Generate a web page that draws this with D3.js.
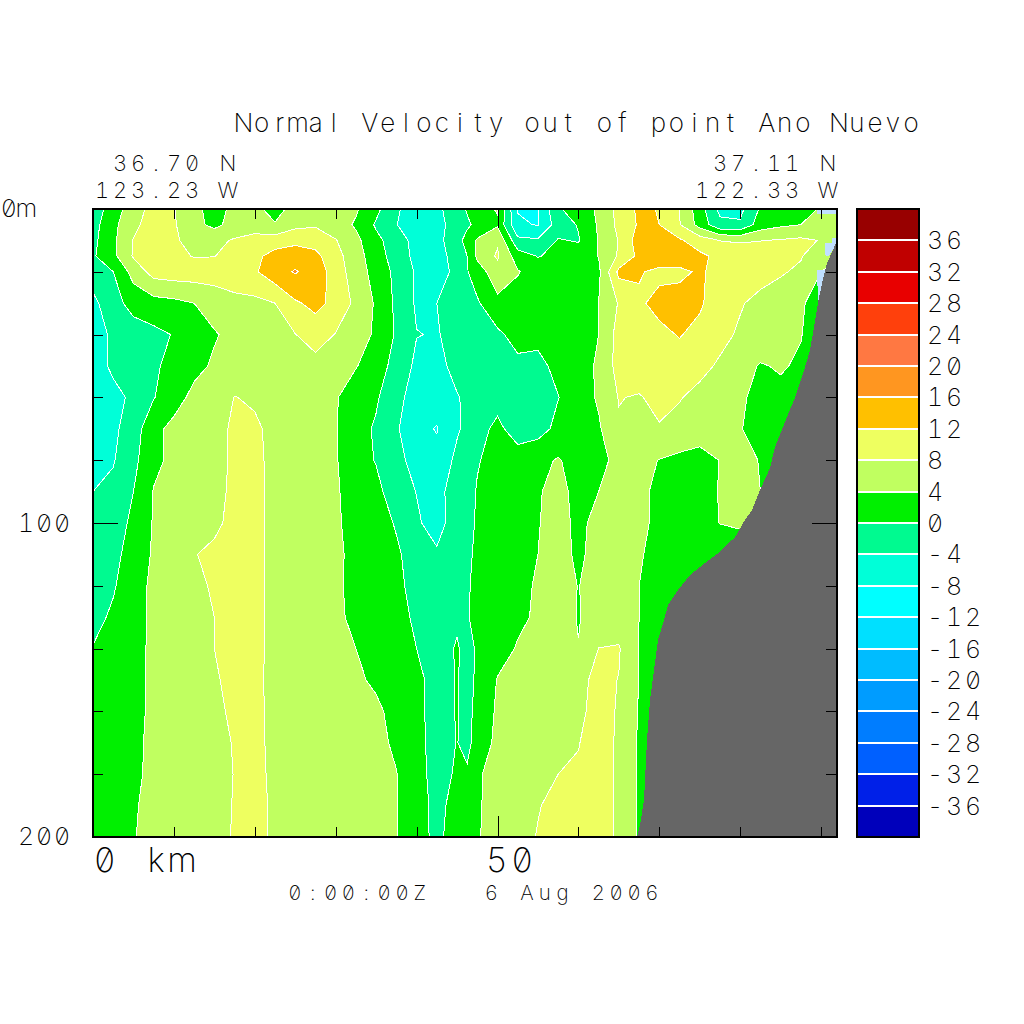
<!DOCTYPE html>
<html><head><meta charset="utf-8">
<script src="https://cdn.jsdelivr.net/npm/d3@7"></script>
<style>
html,body{margin:0;padding:0;background:#fff}
svg{display:block}
text{font-family:Inter,"Liberation Mono",monospace;font-weight:250;font-feature-settings:"zero","tnum";fill:#000;white-space:pre}
</style></head><body>
<svg id="c" width="1024" height="1024"></svg>
<script>
// ---- data (km along section, metres of depth, cm/s normal velocity) ----
const titleText = "Normal Velocity out of point Ano Nuevo";
const dateText = "0:00:00Z   6 Aug 2006";
const bandEdges = [-36,-32,-28,-24,-20,-16,-12,-8,-4,0,4,8,12,16,20,24,28,32,36];
const bandColors = ["#0000bb","#0020e8","#0060ff","#007dff","#009cff","#00bcff","#00e0ff","#00ffff","#00ffd8","#00fa90","#00f000","#c0ff60","#eeff60","#ffc000","#ff9620","#ff7842","#ff400c","#e80000","#c00000","#980000"];
const depthTicks = [20,40,60,80,100,120,140,160,180];
const kmTicks = [10,20,30,40,50,60,70,80,90];
const gridKm = [0,2.5,5,7.5,10,12.5,15,17.5,20,22.5,25,27.5,30,32.5,35,37.5,40,42.5,45,46.25,47.5,50,52.5,55,57.5,60,62.5,65,67.5,70,72.5,75,77.5,80,82.5,85,87.5,90,92.5];
const gridDepth = [0,5,10,15,20,30,40,50,60,70,80,90,100,110,120,130,140,150,160,170,180,190,200];
const velocity = [
[-2.5,2.2,6,9.5,8.2,5,2.5,5,5,2.5,5.5,6,6,4.5,1,-3.5,-6,-5,-1.5,0.3,2.5,4.3,-8.2,-8.2,-0.5,2,4.6,9.2,12.8,11.8,7.9,1.8,-5,-5,0.5,1.5,2,4.5,5],
[-1.5,3,7,10,8.4,5.2,3,5.5,6,4.3,7,7.5,6,3.5,-0.5,-3.9,-6,-5.5,-2,-0.5,0.8,3.5,-7.5,-8.2,-2,0.3,4.5,9,12.5,12,8.2,2.5,-3,-3.5,2,3.3,4,4.5,4.5],
[-1,3.2,8.2,10,8.6,6.5,7,8.4,9.5,10,10.8,10.5,8.2,5,1,-2,-5.5,-5.5,-1,1,4.5,7.5,-3,-3.5,0.3,-0.3,4.2,8.2,14,14,12.5,10,7.9,7.5,7.9,8.3,8.8,7.8,6],
[-0.5,3,8.4,10.5,9,7.8,7.9,9.5,11,13.5,14.5,13,9.5,5.5,2,-2,-5,-6,-2,0,4.8,8.5,2,-0.2,1,2,4.1,8.5,13,14,14,12.8,11,10.5,10,9.5,8.3,5,4],
[-2,0,5.5,9.5,10,10,10,11,11.5,14.5,16.3,14.5,10,6,2.5,-1,-4.5,-6.5,-2.5,-0.2,2,6.5,4.3,2,2.5,2.5,3.2,13,12.3,11.2,11.2,12.5,10.8,10,9.3,8.4,7.3,4,2],
[-5,-1.5,1.5,2.5,3,4,5.5,6.5,7,8,11.5,13,11,7,3.5,-0.8,-4.5,-4,-3,-1.5,-0.5,3,2,2.5,3,3,4,8.3,11.5,13,13.5,12.5,10,8.3,7,6,4.8,1,0],
[-6,-3.2,-2,-1,0.2,2.5,3.7,5,5.5,6.5,7.9,10,7.8,5.5,3.5,-0.5,-3.9,-4.2,-3,-2.5,-2,-0.8,1.5,1,3,3,4,9.5,11.8,11.2,12.2,11,9,7.5,6.5,5.5,4.2,1,0],
[-6.5,-3,-2,-0.5,1,3,4.5,5,5.5,6,6.5,6.5,5.5,4.2,2,-1.5,-4.8,-5,-3,-2,-1,-1,-1,-1,1,2.5,4.5,9.5,11,11,10.5,9,7.5,5.5,3.7,4.4,3.4,0,0],
[-7,-5.5,-3,-0.2,2.5,5,6,8.1,7.5,6.5,6,5.5,4.3,2,0.5,-3,-5.5,-6.5,-4.2,-3.5,-2,-1.5,-2,-2,-0.1,2,4.5,8.2,7.6,9.5,8.2,7,6,4.5,3,3,0,0,0],
[-7,-4.8,-2,3,5,5.5,7,8.5,8.6,7,6.5,5.5,4.2,1.5,-0.5,-3.5,-7,-8.2,-4.5,-3,-1.5,1,-2,-1.5,1,2.5,3.5,7.5,6,7.6,7,6,5,4.2,2.5,1.5,0,0,0],
[-6.5,-4.3,-1,3,5,6,7,8.5,9,6.8,6.5,5.5,4.3,1.5,-0.2,-3.2,-5,-7,-3,-1,-0.2,1,2,3,4.3,2.5,3,5,5,3.9,3,2.5,4.1,6,3.7,1,0,0,0],
[-4,-3,0,4.2,5,6,7.3,8.5,9,7,6.5,5.5,4.4,2.5,1,-2,-4.1,-5,-2.5,-1,0.2,1.5,2.5,3.6,5.5,2.5,4,5.5,5,3,2.5,2.5,4.2,5.5,4,3,2,2,2],
[-3,-1.8,0.8,4.3,5,6,7.5,8.7,9,7,6.5,5.5,4.4,3,1.5,-0.3,-3.5,-5.5,-2,-0.8,0.3,1.5,2.5,3.8,5.5,3,5.3,6,5,3,2.5,2.5,4.1,5,3,3,3,3,3],
[-3,-1,1.5,4.5,5,7.9,8.5,9,9,7,6.5,5.5,4.5,3.3,2,0.5,-1.5,-3.5,-1.5,-0.5,0.5,1.5,2.5,4,5,3.5,5,6,4.3,3,2.5,2,1,0,0,0,0,0,0],
[-3,-0.5,3,4.5,5,7,8.5,9,9,7,6.5,5.5,4.6,3,2,0.7,-1,-1.5,-0.8,-0.3,0.7,1.8,3,4.4,5.5,3.9,5.5,6,4,2.5,2,1,0,0,0,0,0,0,0],
[-1.5,0.8,3,4.5,5,6.5,8,9,9,7,6.5,5.5,4.7,3.2,2,1,-0.5,-1.5,-0.5,-0.2,0.8,2.5,3.3,4.5,5.5,3.8,5.5,6,4,2,0.5,0,0,0,0,0,0,0,0],
[0.2,1.5,3.2,4.5,5.5,6.5,8,9,9,7,6.5,5.5,5,4,2.5,1.5,0,-1.5,0.3,-1,0.4,2.5,4.3,5,6,4.1,8.05,8.3,3.9,2,0,0,0,0,0,0,0,0,0],
[1,2,3.2,4.5,5.5,6.5,7.6,9,8.7,7,6.5,6,5.5,4.5,3.5,2.5,1,-1.5,0.2,-1,0.5,4.2,5,5.5,6.5,7,9,7.9,3.9,2,0,0,0,0,0,0,0,0,0],
[1.5,2.2,3.3,4.5,5.5,6.5,7.4,8.5,8.5,7.5,7,6.5,6,5.5,4.6,3,1,-1.5,0.2,-1,1,4.6,5,5.5,6.5,7.5,8.8,7.8,3.7,1.5,0,0,0,0,0,0,0,0,0],
[1.5,2.3,3.4,4.6,5.5,6.3,7,8.2,8.5,7.5,7,6.5,6,5.5,4.8,3.5,1.2,-1.5,0.1,-1,1.5,5,5.5,6,7,7.9,9.2,7.6,3.5,1,0,0,0,0,0,0,0,0,0],
[1.5,2.4,3.5,4.6,5.5,6.2,6.8,8.1,8.5,7.6,7,6.5,6,5.5,5,4.1,1.5,-1.5,0.5,0.5,3.5,5.5,6,7.3,8,8.3,9.3,7.5,3.5,1,0,0,0,0,0,0,0,0,0],
[2,2.8,3.8,4.6,5.5,6.2,6.8,8.2,8.7,7.6,7,6.5,6,5.5,5,4.2,1.2,-0.8,1,2,3.7,5,6.5,7.8,9,9.5,9.5,7.5,3.5,1,0,0,0,0,0,0,0,0,0],
[2,3,3.9,4.6,5.5,6.2,6.8,8.3,8.7,7.6,7,6.5,6,5.5,5,4.2,0.8,-0.5,1,2,3.8,5,6.6,8.2,9,9.5,9.5,7.5,3.5,1,0,0,0,0,0,0,0,0,0]
];
const seafloorKm = [92,91.35,90.73,90.11,89.62,89.12,88.63,88.01,87.39,86.65,85.79,85.04,84.3,83.68,82.45,81.46,80.59,79.36,77.26,75.65,73.79,72.31,71.08,70.58,69.84,69.35,68.85,68.48,68.11,67.61,67.24];
const seafloorDepth = [9.9,13.7,17.2,23.6,29.9,37.6,44.9,50.3,55.4,60.8,66.2,71,75.8,82.5,89.5,95.9,99,104.5,109.6,112.7,116.6,121.3,126.1,130.9,137.3,146.8,156.4,169.1,188.2,196.2,200];
const coastPatches = [
 [[89.5,0],[92,0],[92,1.6],[89.5,1.6]],
 [[91.35,9.2],[92,9.2],[92,11.1],[90.85,15.2],[90.48,14.6],[90.48,10.8],[91.35,10.8]],
 [[89.5,19.4],[90.73,19.4],[89.62,30.6]]
];

// ---- layout ----
const svg = d3.select("#c");
const x = d3.scaleLinear().domain([0,92]).range([93,837.3]);
const y = d3.scaleLinear().domain([0,200]).range([209,837]);
const barY = d3.scaleLinear().domain([-40,40]).range([837,209]);
const colX = d3.scaleLinear().domain(d3.range(gridKm.length)).range(gridKm);
const rowY = d3.scaleLinear().domain(d3.range(gridDepth.length)).range(gridDepth);
const color = d3.scaleThreshold().domain(bandEdges).range(bandColors);

svg.append("clipPath").attr("id","plot").append("rect")
  .attr("x",93).attr("y",209).attr("width",744).attr("height",628);
const plot = svg.append("g").attr("clip-path","url(#plot)");

// filled contours
const nx = gridKm.length, ny = gridDepth.length;
const contours = d3.contours().size([nx,ny]).thresholds(bandEdges)(velocity.flat());
const path = d3.geoPath(d3.geoTransform({point(px,py){
  this.stream.point(x(colX(px-0.5)), y(rowY(py-0.5)));
}}));
plot.append("rect").attr("x",93).attr("y",209).attr("width",744).attr("height",628).attr("fill",bandColors[0]);
plot.selectAll("path.band").data(contours).join("path").attr("class","band")
  .attr("d",path).attr("fill",d=>color(d.value))
  .attr("stroke","#fff").attr("stroke-width",1).attr("shape-rendering","crispEdges");

// coast patches and sea floor
plot.selectAll("path.coast").data(coastPatches).join("path").attr("class","coast")
  .attr("d",d3.line().x(d=>x(d[0])).y(d=>y(d[1])).curve(d3.curveLinearClosed))
  .attr("fill","#c0e0ff").attr("shape-rendering","crispEdges");
plot.append("path")
  .attr("d",d3.area().x((d,i)=>x(seafloorKm[i])).y0(y(200)).y1((d,i)=>y(seafloorDepth[i]))(seafloorKm))
  .attr("fill","#666666").attr("shape-rendering","crispEdges");

// axes (inward ticks, longer at 50 km and 100 m)
function ax(gen,tx,ty,vals,long,len,longEnd,attr){
  const g = svg.append("g").attr("transform",`translate(${tx},${ty})`)
    .call(gen.tickValues(vals).tickSize(-len).tickFormat(""));
  g.select(".domain").remove();
  g.selectAll(".tick line").attr("stroke","#000").attr("stroke-width",1).attr("shape-rendering","crispEdges")
    .filter(d=>d===long).attr(attr,longEnd);
}
ax(d3.axisLeft(y),93,0,depthTicks,100,10,25,"x2");
ax(d3.axisRight(y),837,0,depthTicks,100,11,-25,"x2");
ax(d3.axisTop(x),0,209,kmTicks,50,10,19,"y2");
ax(d3.axisBottom(x),0,837,kmTicks,50,10,-21,"y2");

// frames
svg.append("rect").attr("x",93).attr("y",209).attr("width",744).attr("height",628)
  .attr("fill","none").attr("stroke","#000").attr("stroke-width",2).attr("shape-rendering","crispEdges");

// colour bar
const bar = svg.append("g");
const barEdges = [-40,...bandEdges,40];
bar.selectAll("rect.b").data(bandColors).join("rect").attr("class","b")
  .attr("x",857).attr("width",62)
  .attr("y",(d,i)=>barY(barEdges[i+1])).attr("height",(d,i)=>barY(barEdges[i])-barY(barEdges[i+1]))
  .attr("fill",d=>d).attr("shape-rendering","crispEdges");
bar.selectAll("line").data(bandEdges).join("line")
  .attr("x1",857).attr("x2",919).attr("y1",d=>barY(d)).attr("y2",d=>barY(d))
  .attr("stroke","#fff").attr("stroke-width",2).attr("shape-rendering","crispEdges");
bar.append("rect").attr("x",857).attr("y",209).attr("width",62).attr("height",628)
  .attr("fill","none").attr("stroke","#000").attr("stroke-width",2).attr("shape-rendering","crispEdges");

// fixed-pitch vector-style text: one real text element, one positioned tspan per glyph
function label(str,x0,base,pitch,size){
  const t = svg.append("text").attr("y",base).attr("font-size",size).attr("text-anchor","middle").attr("xml:space","preserve");
  [...str].forEach((ch,i)=>t.append("tspan").attr("x",x0+pitch*(i+0.5)).attr("y",base).text(ch));
}
label(titleText,234.5,132,18.04,26);
label("36.70 N",111,171,18,22);
label("123.23 W",93,198,18,22);
label("37.11 N",711,171,18,22);
label("122.33 W",693,198,18,22);
label("0m",0,217,17.5,25);
label("100",17,532,18,25);
label("200",17,845,18,25);
label("0 km",92,872,25.7,34);
label("50",484,872,25.5,34);
label(dateText,286,900,17.85,20.5);
bandEdges.slice().reverse().forEach(v=>label(String(v),925.5,barY(v)+9,19,25));
</script>
</body></html>
